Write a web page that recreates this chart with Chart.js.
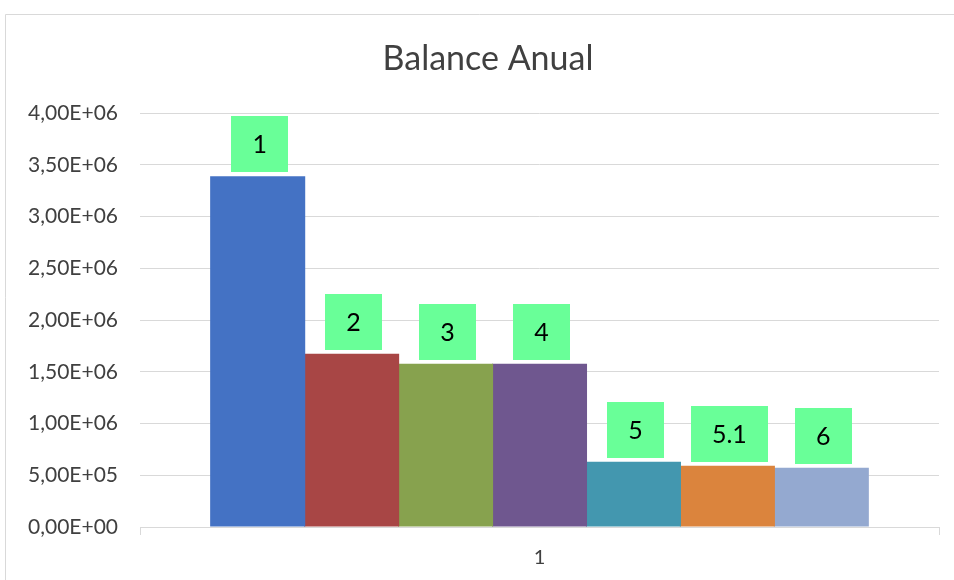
<!DOCTYPE html>
<html>
<head>
<meta charset="utf-8">
<script src="https://cdn.jsdelivr.net/npm/chart.js@4/dist/chart.umd.min.js"></script>
<style>
html,body{margin:0;padding:0;background:#fff;}
#wrap{position:relative;width:954px;height:580px;}
</style>
</head>
<body>
<div id="wrap"><canvas id="c" width="954" height="580"></canvas></div>
<script>
const categories = ['1'];
const seriesNames = ['1', '2', '3', '4', '5', '5.1', '6'];
const seriesValues = [3390000, 1675000, 1578000, 1578000, 630000, 592000, 572000];
const seriesColors = ['#4472C4', '#A84645', '#87A24E', '#6F578F', '#4397AF', '#DB843D', '#94A9D0'];
const yTicks = ['0,00E+00','5,00E+05','1,00E+06','1,50E+06','2,00E+06','2,50E+06','3,00E+06','3,50E+06','4,00E+06'];
const chartTitle = 'Balance Anual';

const FONT = 'Lato, "Open Sans", sans-serif';

const framePlugin = {
  id: 'frame',
  beforeDraw(chart) {
    const ctx = chart.ctx;
    ctx.save();
    ctx.fillStyle = '#fff';
    ctx.fillRect(0, 0, chart.width, chart.height);
    ctx.strokeStyle = '#d9d9d9';
    ctx.lineWidth = 1;
    ctx.beginPath();
    ctx.moveTo(5.5, chart.height);
    ctx.lineTo(5.5, 14.5);
    ctx.lineTo(chart.width, 14.5);
    ctx.stroke();
    ctx.fillStyle = '#404040';
    ctx.font = '34px ' + FONT;
    ctx.textAlign = 'center';
    ctx.textBaseline = 'middle';
    ctx.fillText(chartTitle, 488, 59);
    ctx.restore();
  }
};

const labelPlugin = {
  id: 'boxLabels',
  afterDatasetsDraw(chart) {
    const ctx = chart.ctx;
    ctx.save();
    ctx.font = '25px ' + FONT;
    ctx.textAlign = 'center';
    ctx.textBaseline = 'middle';
    chart.data.datasets.forEach((ds, i) => {
      const meta = chart.getDatasetMeta(i);
      meta.data.forEach(bar => {
        const txt = ds.label;
        const w = ctx.measureText(txt).width + 42;
        const h = 56;
        const cx = bar.x + 2;
        const bottom = bar.y - 4;
        ctx.fillStyle = '#69FF98';
        ctx.fillRect(Math.round(cx - w / 2), Math.round(bottom - h), Math.round(w), h);
        ctx.fillStyle = '#000';
        ctx.fillText(txt, cx, bottom - h / 2 + 1);
      });
    });
    ctx.restore();
  }
};

const datasets = seriesNames.map((name, i) => ({
  label: name,
  data: [seriesValues[i]],
  backgroundColor: seriesColors[i],
  borderWidth: 0,
  categoryPercentage: 0.823,
  barPercentage: 1.012
}));

new Chart(document.getElementById('c'), {
  type: 'bar',
  data: { labels: categories, datasets },
  options: {
    responsive: false,
    animation: false,
    devicePixelRatio: 1,
    layout: { padding: { top: 113, left: 5, right: 15, bottom: 0 } },
    plugins: {
      legend: { display: false },
      title: { display: false },
      tooltip: { enabled: false }
    },
    scales: {
      x: {
        grid: { display: true, drawOnChartArea: false, color: '#d9d9d9', tickLength: 8, lineWidth: 1 },
        border: { display: true, color: '#d9d9d9', width: 1 },
        ticks: { color: '#404040', font: { size: 20, family: FONT }, padding: 11 },
        afterFit(scale) { scale.height = 53; }
      },
      y: {
        min: 0,
        max: 4000000,
        grid: { color: '#d9d9d9', drawTicks: false, lineWidth: 1 },
        border: { display: false },
        ticks: {
          stepSize: 500000,
          color: '#404040',
          font: { size: 21, family: FONT },
          padding: 22,
          callback(value, index) { return yTicks[index]; }
        },
        afterFit(scale) { scale.width = 135; }
      }
    }
  },
  plugins: [framePlugin, labelPlugin]
});
</script>
</body>
</html>
